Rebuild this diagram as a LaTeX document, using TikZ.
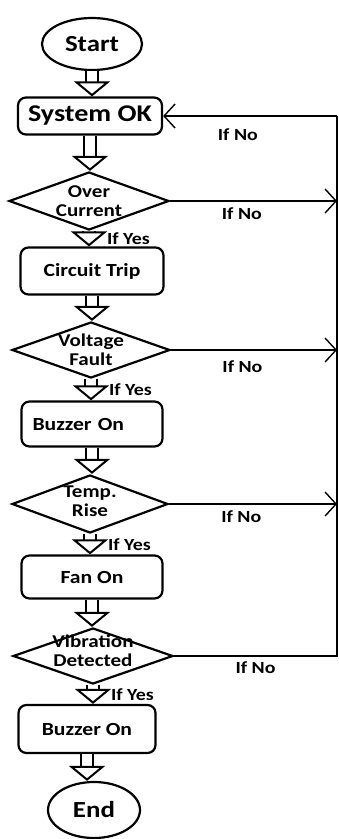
\documentclass[tikz,border=0pt]{standalone}
\usepackage{fontspec}
\setmainfont{Carlito}[FakeStretch=1.17]
\usepackage{tikz}
\usetikzlibrary{shapes.geometric,arrows.meta}

\tikzset{
  terminal/.style={ellipse, draw, line width=2.2pt, inner sep=0pt, font=\bfseries\fontsize{23}{24}\selectfont},
  process/.style={rectangle, rounded corners=8pt, draw, line width=2.2pt, inner sep=0pt, font=\bfseries\fontsize{18.5}{19}\selectfont},
  decision/.style={diamond, draw, line width=2.2pt, inner sep=0pt},
  dtext/.style={align=center, inner sep=0pt, font=\bfseries\fontsize{18}{19}\selectfont},
  hollow/.style={double, double distance=9.5pt, line width=2pt, -{Triangle[open, length=15pt, width=36pt, line width=2pt]}},
  feedback/.style={line width=1.4pt},
  barb/.style={-{Straight Barb[length=11pt, width=24pt, line width=1.4pt]}},
  answer/.style={inner sep=0pt, font=\bfseries\fontsize{17}{18}\selectfont},
  ifyes/.style={answer, midway, anchor=west, xshift=17pt},
}

\begin{document}
\begin{tikzpicture}[x=1pt,y=-1pt]
\useasboundingbox (0,0) rectangle (339,839);

% flow nodes
\node[terminal, minimum width=100pt, minimum height=52pt] (start) at (92,44) {Start};
\node[process, minimum width=144pt, minimum height=37pt, font=\bfseries\fontsize{24}{25}\selectfont] (sysok) at (90,116) {System OK};
\node[decision, minimum width=160pt, minimum height=58pt] (over) at (89,201) {};
\node[dtext] (overtxt) at (over) {Over\\Current};
\node[process, minimum width=143pt, minimum height=47pt] (trip) at (92,271) {Circuit Trip};
\node[decision, minimum width=158pt, minimum height=56pt] (volt) at (91,350) {};
\node[dtext] (volttxt) at (volt) {Voltage\\Fault};
\node[process, minimum width=141pt, minimum height=45pt, text width=119pt, align=left] (buzz) at (92,424) {Buzzer On};
\node[decision, minimum width=156pt, minimum height=58pt] (temp) at (90,504) {};
\node[dtext] (temptxt) at ([yshift=3pt]temp.center) {Temp.\\Rise};
\node[process, minimum width=141pt, minimum height=43pt] (fan) at (92,577) {Fan On};
\node[decision, minimum width=160pt, minimum height=56pt] (vib) at (93,656) {};
\node[dtext] (vibtxt) at ([yshift=5pt]vib.center) {Vibration\\Detected};
\node[process, minimum width=137pt, minimum height=48pt] (buzzb) at (87,729) {Buzzer On};
\node[terminal, minimum width=92pt, minimum height=56pt] (end) at (94,810) {End};

% hollow arrows
\draw[hollow] (start.south) -- (start.south |- sysok.north);
\draw[hollow] (sysok.south) -- (sysok.south |- over.north);
\draw[hollow] (over.south) -- (over.south |- trip.north) node[ifyes] {If Yes};
\draw[hollow] (trip.south) -- (trip.south |- volt.north);
\draw[hollow] (volt.south) -- (volt.south |- buzz.north) node[ifyes] {If Yes};
\draw[hollow] (buzz.south) -- (buzz.south |- temp.north);
\draw[hollow] (temp.south) -- (temp.south |- fan.north) node[ifyes] {If Yes};
\draw[hollow] (fan.south) -- (fan.south |- vib.north);
\draw[hollow] (vib.south) -- (vib.south |- buzzb.north) node[ifyes] {If Yes};
\draw[hollow] (buzzb.south) -- (buzzb.south |- end.north);

% return rail
\coordinate (railtop) at (337,116);
\draw[feedback] (vib.east) -- (vib.east -| railtop) node[answer, pos=.5, below=5pt] {If No} -- (railtop);
\draw[feedback, barb] (railtop) -- (sysok.east) node[answer, pos=.57, below=12pt] {If No};
\draw[feedback, barb] (over.east) -- (over.east -| railtop) node[answer, pos=.43, below=6pt] {If No};
\draw[feedback, barb] (volt.east) -- (volt.east -| railtop) node[answer, pos=.43, below=10pt] {If No};
\draw[feedback, barb] (temp.east) -- (temp.east -| railtop) node[answer, pos=.43, below=6pt] {If No};
\end{tikzpicture}
\end{document}
